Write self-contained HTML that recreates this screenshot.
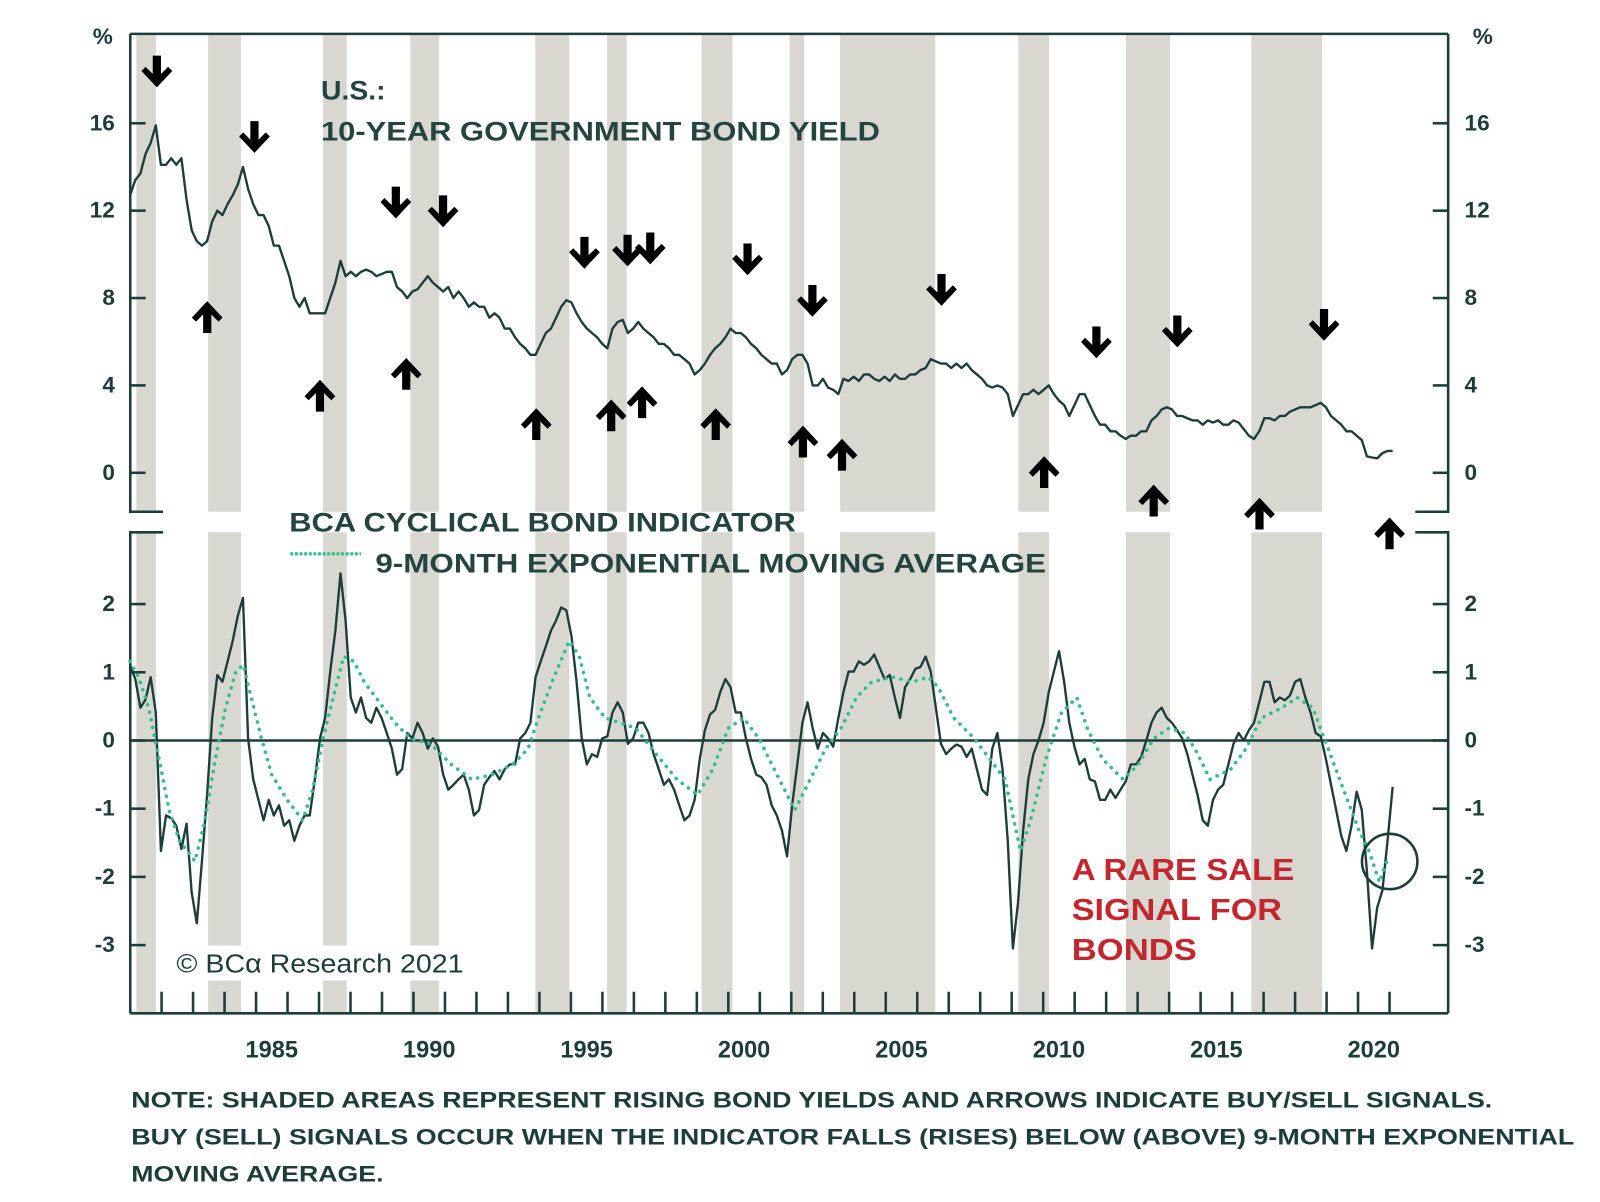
<!DOCTYPE html>
<html><head><meta charset="utf-8"><style>
html,body{margin:0;padding:0;background:#fff;}
svg{display:block;}
text{font-family:"Liberation Sans",sans-serif;}
</style></head><body>
<svg id="chart" width="1600" height="1202" viewBox="0 0 1600 1202" xmlns="http://www.w3.org/2000/svg">
<g id="root" transform="scale(1.0256)"></g>
</svg>
<script>
// ---- data ----
const shadeStarts = [1980.70,1982.98,1986.63,1989.40,1993.37,1995.65,1998.65,2001.45,2003.05,2008.71,2012.13,2016.11];
const shadeEnds   = [1981.32,1984.02,1987.38,1990.31,1994.45,1996.27,1999.63,2001.91,2006.07,2009.69,2013.53,2018.36];
const xTickYears = [1985,1990,1995,2000,2005,2010,2015,2020];
const topTicks = [0,4,8,12,16];
const bottomTicks = [-3,-2,-1,0,1,2];
const seriesStart = 1980.5;
const seriesStep = 0.163;
const yieldValues = [12.7,13.4,13.7,14.6,15.1,15.9,14.1,14.1,14.4,14.1,14.4,12.5,11.1,10.6,10.4,10.6,11.5,12.0,11.8,12.3,12.7,13.2,14.0,13.0,12.3,11.8,11.8,11.3,10.4,10.4,9.7,9.0,8.0,7.6,8.0,7.3,7.3,7.3,7.3,8.0,8.7,9.7,9.0,9.2,9.0,9.2,9.3,9.2,9.0,9.1,9.2,9.2,8.5,8.3,8.0,8.3,8.4,8.7,9.0,8.7,8.5,8.3,8.5,8.0,8.3,8.0,7.6,7.8,7.6,7.6,7.1,7.3,7.1,6.6,6.6,6.2,5.9,5.7,5.4,5.4,5.9,6.4,6.6,7.1,7.6,7.9,7.8,7.3,6.9,6.6,6.4,6.2,5.9,5.7,6.6,6.9,7.0,6.4,6.6,6.9,6.6,6.4,6.2,5.9,5.9,5.7,5.4,5.4,5.2,5.0,4.5,4.7,5.0,5.4,5.7,5.9,6.2,6.6,6.4,6.4,6.2,5.9,5.7,5.4,5.2,5.0,5.0,4.5,4.7,5.2,5.4,5.4,5.0,4.0,4.0,4.3,3.9,3.8,3.6,4.3,4.2,4.4,4.2,4.5,4.5,4.3,4.2,4.4,4.2,4.5,4.3,4.3,4.5,4.5,4.7,4.8,5.2,5.1,5.0,5.0,4.8,5.0,4.8,5.0,4.7,4.5,4.3,4.0,3.9,4.0,3.9,3.6,2.6,3.1,3.6,3.6,3.8,3.6,3.8,4.0,3.6,3.3,3.1,2.6,3.1,3.6,3.6,3.1,2.6,2.2,2.2,1.9,1.9,1.7,1.55,1.7,1.7,1.9,1.9,2.4,2.6,2.9,3.0,2.9,2.6,2.6,2.5,2.4,2.4,2.2,2.4,2.3,2.4,2.2,2.2,2.4,2.3,2.0,1.7,1.55,1.9,2.5,2.5,2.4,2.6,2.6,2.8,2.9,3.0,3.0,3.0,3.1,3.2,3.0,2.6,2.4,2.2,1.9,1.9,1.7,1.5,0.75,0.7,0.66,0.9,1.0,1.0];
const indicatorValues = [1.11,0.90,0.48,0.60,0.93,0.41,-1.62,-1.10,-1.14,-1.25,-1.59,-1.22,-2.23,-2.68,-1.77,-0.80,0.33,0.96,0.86,1.16,1.46,1.83,2.09,0.03,-0.57,-0.87,-1.17,-0.87,-1.10,-0.95,-1.25,-1.17,-1.47,-1.25,-1.10,-1.10,-0.57,0.03,0.33,1.01,1.61,2.45,1.75,0.63,0.41,0.63,0.33,0.26,0.48,0.33,0.11,-0.12,-0.50,-0.42,0.11,0.03,0.26,0.11,-0.12,0.03,-0.09,-0.50,-0.72,-0.65,-0.57,-0.50,-0.72,-1.10,-1.02,-0.65,-0.54,-0.45,-0.57,-0.42,-0.35,-0.35,0.03,0.11,0.26,0.93,1.16,1.38,1.61,1.76,1.95,1.91,1.53,0.86,0.03,-0.35,-0.20,-0.24,0.03,0.06,0.41,0.56,0.41,-0.05,0.03,0.26,0.26,0.11,-0.20,-0.42,-0.65,-0.57,-0.72,-0.95,-1.17,-1.10,-0.87,-0.27,0.15,0.38,0.45,0.71,0.90,0.78,0.41,0.41,0.03,-0.27,-0.50,-0.54,-0.65,-0.95,-1.10,-1.32,-1.70,-0.95,-0.35,0.26,0.56,0.18,-0.12,0.11,0.03,-0.09,0.33,0.71,1.01,1.01,1.16,1.11,1.16,1.26,1.08,0.90,0.96,0.63,0.33,0.78,0.90,1.05,1.08,1.23,1.01,0.48,-0.05,-0.20,-0.12,-0.06,-0.09,-0.24,-0.12,-0.42,-0.72,-0.80,-0.12,0.11,-0.42,-1.47,-3.05,-2.38,-1.32,-0.57,-0.20,0.00,0.26,0.71,1.01,1.31,0.86,0.26,-0.09,-0.35,-0.27,-0.57,-0.60,-0.87,-0.87,-0.72,-0.84,-0.72,-0.60,-0.35,-0.35,-0.24,0.00,0.26,0.41,0.48,0.33,0.26,0.15,0.03,-0.20,-0.50,-0.80,-1.17,-1.25,-0.87,-0.72,-0.65,-0.35,-0.05,0.11,0.00,0.15,0.26,0.56,0.86,0.86,0.56,0.63,0.59,0.66,0.86,0.90,0.63,0.41,0.11,0.06,-0.27,-0.65,-1.02,-1.40,-1.62,-1.25,-0.75,-1.02,-1.92,-3.05,-2.45,-2.20,-1.47,-0.68];
const emaYears = [1980.50,1980.77,1981.09,1981.42,1981.74,1982.07,1982.56,1982.88,1983.21,1983.53,1983.86,1984.09,1984.35,1984.67,1985.00,1985.49,1985.98,1986.30,1986.63,1986.95,1987.28,1987.61,1987.93,1988.42,1988.91,1989.40,1990.05,1990.70,1991.35,1992.00,1992.65,1993.14,1993.47,1993.96,1994.45,1994.77,1995.10,1995.59,1996.07,1996.56,1997.21,1997.87,1998.52,1999.01,1999.50,1999.98,2000.47,2001.12,2001.61,2002.10,2002.59,2003.08,2003.57,2004.06,2004.71,2005.36,2005.85,2006.17,2006.66,2007.31,2007.80,2008.29,2008.78,2009.10,2009.59,2010.08,2010.57,2010.90,2011.38,2012.04,2012.52,2013.01,2013.50,2013.99,2014.32,2014.80,2015.46,2015.94,2016.43,2017.08,2017.57,2018.06,2018.55,2019.04,2019.53,2019.85,2020.18,2020.41];
const emaValues = [1.16,0.93,0.48,-0.27,-1.02,-1.47,-1.77,-1.17,-0.27,0.48,1.01,1.11,0.63,0.03,-0.50,-0.87,-1.17,-0.72,0.03,0.63,1.23,1.16,0.86,0.56,0.26,0.03,-0.05,-0.35,-0.57,-0.50,-0.35,-0.12,0.33,0.93,1.46,1.23,0.63,0.33,0.26,0.18,-0.20,-0.57,-0.80,-0.42,0.18,0.33,0.03,-0.57,-1.02,-0.57,-0.12,0.18,0.63,0.86,0.93,0.86,0.93,0.78,0.33,0.03,-0.27,-0.57,-1.62,-1.17,-0.27,0.41,0.63,0.18,-0.27,-0.57,-0.35,0.03,0.18,0.11,-0.12,-0.57,-0.42,-0.12,0.33,0.48,0.63,0.48,-0.12,-0.72,-1.32,-1.62,-2.08,-1.77];
const sellYears = [1981.35,1984.45,1988.94,1990.44,1994.93,1996.30,1997.02,2000.11,2002.17,2006.27,2011.19,2013.76,2018.42];
const sellLevels = [18.3,15.3,12.3,11.9,10.0,10.1,10.2,9.7,7.8,8.3,5.9,6.4,6.7];
const buyYears = [1982.95,1986.53,1989.27,1993.40,1995.78,1996.76,1999.10,2001.87,2003.11,2009.53,2013.01,2016.37,2020.50];
const buyLevels = [7.2,3.6,4.6,2.3,2.7,3.3,2.3,1.5,0.9,0.1,-1.2,-1.8,-2.7];

// ---- layout (in pre-scaled coords) ----
const L=127, R=1412, T=33, TB=499, BT=519, B=988;
const INK='#1c3d3a';
const x = yr => 265 + (yr-1985)*30.7;
const yTop = v => 461 - v*21.3;
const yBot = v => 722 - v*66.5;
const NS='http://www.w3.org/2000/svg';
const root=document.getElementById('root');
function mk(tag, attrs, parent){const e=document.createElementNS(NS,tag);for(const k in attrs)e.setAttribute(k,attrs[k]);(parent||root).appendChild(e);return e;}

// shaded bands
const gS=mk('g',{});


shadeStarts.forEach((s,i)=>{
  const x0=x(s), w=x(shadeEnds[i])-x0;
  const r1=mk('rect',{x:x0,y:T,width:w,height:TB-T,fill:'#d8d8d1'},gS);
  
  
  const r2=mk('rect',{x:x0,y:BT,width:w,height:B-BT,fill:'#d8d8d1'},gS);
  
  
});

// axes frame
const gA=mk('g',{stroke:INK,'stroke-width':2.5,fill:'none'});


mk('line',{x1:L,y1:T,x2:R,y2:T},gA);
mk('line',{x1:L,y1:B,x2:R,y2:B},gA);
mk('path',{d:`M${L},${T} V${TB} H${L+32}`},gA);
mk('path',{d:`M${L+32},${BT} H${L} V${B}`},gA);
mk('path',{d:`M${R},${T} V${TB} H${R-32}`},gA);
mk('path',{d:`M${R-32},${BT} H${R} V${B}`},gA);
mk('line',{x1:L,y1:yBot(0),x2:R,y2:yBot(0)},gA);

// y ticks and labels
function tickLabel(txt,xx,yy,anchor,name){
  const t=mk('text',{x:xx,y:yy,'text-anchor':anchor,'font-size':22,'font-weight':'bold',fill:INK,'dominant-baseline':'middle'});
  t.textContent=txt;
  
  
}
topTicks.forEach(v=>{
  const yy=yTop(v);
  mk('line',{x1:L,y1:yy,x2:L+15,y2:yy,stroke:INK,'stroke-width':2.5});
  mk('line',{x1:R,y1:yy,x2:R-15,y2:yy,stroke:INK,'stroke-width':2.5});
  tickLabel(String(v),112,yy+1,'end','left-yield-tick-label');
  tickLabel(String(v),1428,yy+1,'start','right-yield-tick-label');
});
bottomTicks.forEach(v=>{
  const yy=yBot(v);
  mk('line',{x1:L,y1:yy,x2:L+15,y2:yy,stroke:INK,'stroke-width':2.5});
  mk('line',{x1:R,y1:yy,x2:R-15,y2:yy,stroke:INK,'stroke-width':2.5});
  tickLabel(String(v),112,yy+1,'end','left-indicator-tick-label');
  tickLabel(String(v),1428,yy+1,'start','right-indicator-tick-label');
});
tickLabel('%',110,37,'end','left-unit-label');
tickLabel('%',1436,37,'start','right-unit-label');

// x ticks
for(let yr=1981; yr<=2021; yr++){
  const xx=x(yr-0.5);
  if(xx>L+2 && xx<R-2) mk('line',{x1:xx,y1:B,x2:xx,y2:B-21,stroke:INK,'stroke-width':2.5});
}
xTickYears.forEach(yr=>{
  const t=mk('text',{x:x(yr),y:1025,'text-anchor':'middle','font-size':23,'font-weight':'bold',fill:INK,'dominant-baseline':'middle'});
  t.textContent=String(yr);
  
  
});

// series
function pathFrom(xs,ys){return xs.map((xx,i)=>(i?'L':'M')+xx.toFixed(1)+','+ys[i].toFixed(1)).join(' ');}
const yx=yieldValues.map((v,i)=>x(seriesStart+i*seriesStep));
const yl=mk('path',{d:pathFrom(yx,yieldValues.map(yTop)),fill:'none',stroke:INK,'stroke-width':2.3,'stroke-linejoin':'round'});


const ix=indicatorValues.map((v,i)=>x(seriesStart+i*seriesStep));
const il=mk('path',{d:pathFrom(ix,indicatorValues.map(yBot)),fill:'none',stroke:INK,'stroke-width':2.3,'stroke-linejoin':'round'});


const el=mk('path',{d:pathFrom(emaYears.map(x),emaValues.map(yBot)),fill:'none',stroke:'#2fbf8c','stroke-width':3.5,'stroke-linecap':'round','stroke-dasharray':'0.1 7.5'});



// arrows
const arrowPts='-4,-17 4,-17 4,1 11,-6 15,-2 0,14 -15,-2 -11,-6 -4,1';
sellYears.forEach((yr,i)=>{
  const a=mk('polygon',{points:arrowPts,fill:'#000',transform:`translate(${x(yr)},${yTop(sellLevels[i])})`});
  
  
});
buyYears.forEach((yr,i)=>{
  const a=mk('polygon',{points:arrowPts,fill:'#000',transform:`translate(${x(yr)},${yTop(buyLevels[i])}) rotate(180)`});
  
  
});

// annotations
function label(txt,xx,yy,size,color,name,len){
  const attrs={x:xx,y:yy,'font-size':size,'font-weight':'bold',fill:color};
  if(len){attrs.textLength=len;attrs.lengthAdjust='spacingAndGlyphs';}
  const t=mk('text',attrs);
  t.textContent=txt;
  
  
  return t;
}
label('U.S.:',313,97,26,'#24453f','top-panel-title-line1',63);
label('10-YEAR GOVERNMENT BOND YIELD',313,137,26,'#24453f','top-panel-title-line2',545);
label('BCA CYCLICAL BOND INDICATOR',282,518,26,'#24453f','indicator-legend-label',494);
const lg=mk('line',{x1:283,y1:540,x2:352,y2:540,stroke:'#2fbf8c','stroke-width':3,'stroke-dasharray':'3 1.5'});


label('9-MONTH EXPONENTIAL MOVING AVERAGE',366,558,26,'#24453f','ema-legend-label',654);
label('A RARE SALE',1045,858,30,'#c4262e','rare-sale-annotation-line1',217);
label('SIGNAL FOR',1045,897,30,'#c4262e','rare-sale-annotation-line2',205);
label('BONDS',1045,936,30,'#c4262e','rare-sale-annotation-line3',122);
const c=mk('circle',{cx:1355,cy:840,r:27,fill:'none',stroke:INK,'stroke-width':2.5});


const bg=mk('rect',{x:168,y:922,width:292,height:34,fill:'#fff'});


const cp=mk('text',{x:172,y:948,'font-size':25,fill:INK,'font-family':'Liberation Serif, serif',textLength:280,lengthAdjust:'spacingAndGlyphs'});
cp.textContent='© BCα Research 2021';


label('NOTE: SHADED AREAS REPRESENT RISING BOND YIELDS AND ARROWS INDICATE BUY/SELL SIGNALS.',128,1080,21.5,INK,'note-line1',1327);
label('BUY (SELL) SIGNALS OCCUR WHEN THE INDICATOR FALLS (RISES) BELOW (ABOVE) 9-MONTH EXPONENTIAL',128,1116,21.5,INK,'note-line2',1407);
label('MOVING AVERAGE.',128,1152,21.5,INK,'note-line3',246);
</script>
</body></html>
